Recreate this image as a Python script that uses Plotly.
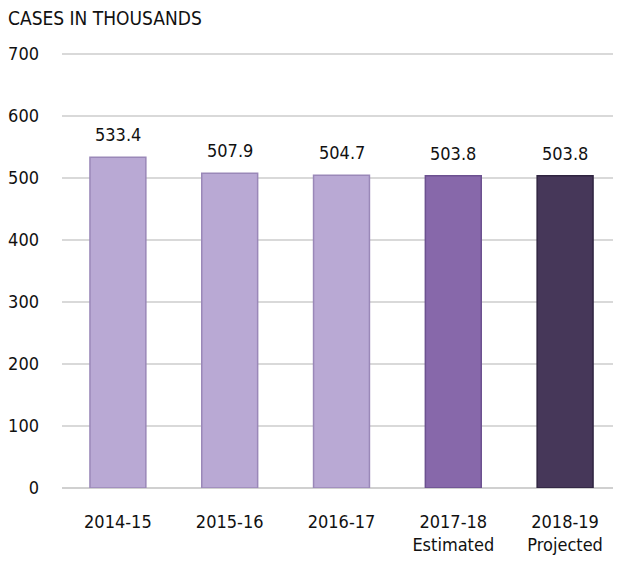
import plotly.graph_objects as go

categories = ["2014-15", "2015-16", "2016-17", "2017-18<br>Estimated", "2018-19<br>Projected"]
values = [533.4, 507.9, 504.7, 503.8, 503.8]
labels = ["533.4", "507.9", "504.7", "503.8", "503.8"]
colors = ["#b9a9d4", "#b9a9d4", "#b9a9d4", "#8768aa", "#463759"]
edge_colors = ["#9a88b8", "#9a88b8", "#9a88b8", "#6c5190", "#2f2440"]
y_ticks = [0, 100, 200, 300, 400, 500, 600, 700]

FONT = "DejaVu Sans Condensed, Liberation Sans Narrow, sans-serif"
FS = 18

fig = go.Figure()
fig.add_trace(go.Bar(
    x=categories,
    y=values,
    marker=dict(color=colors, line=dict(color=edge_colors, width=1.5)),
    cliponaxis=False,
))
for c, v, t in zip(categories, values, labels):
    fig.add_annotation(x=c, y=v, text=t, showarrow=False, yanchor="bottom", yshift=10,
                       font=dict(size=FS, family=FONT, color="#111111"))

fig.update_layout(
    width=621, height=561,
    margin=dict(l=54, r=8, t=43, b=81, autoexpand=False),
    plot_bgcolor="white", paper_bgcolor="white",
    bargap=0.5,
    showlegend=False,
    font=dict(family=FONT, size=FS, color="#111111"),
    title=dict(text="CASES IN THOUSANDS", x=0, xanchor="left", xref="container",
               y=1-10/561, yanchor="middle", yref="container",
               font=dict(size=19, family=FONT, color="#111111")),
)
fig.update_yaxes(range=[0, 705], tickvals=y_ticks, showgrid=True, gridcolor="#d9d9d9",
                 gridwidth=2, zeroline=True, zerolinecolor="#d0d0d0", zerolinewidth=2,
                 ticklabelstandoff=22, showline=False, automargin=False,
                 tickfont=dict(size=FS, family=FONT, color="#111111"))
fig.update_xaxes(showline=False, ticklabelstandoff=21, automargin=False,
                 tickfont=dict(size=FS, family=FONT, color="#111111"))

fig.write_html("out.html")
